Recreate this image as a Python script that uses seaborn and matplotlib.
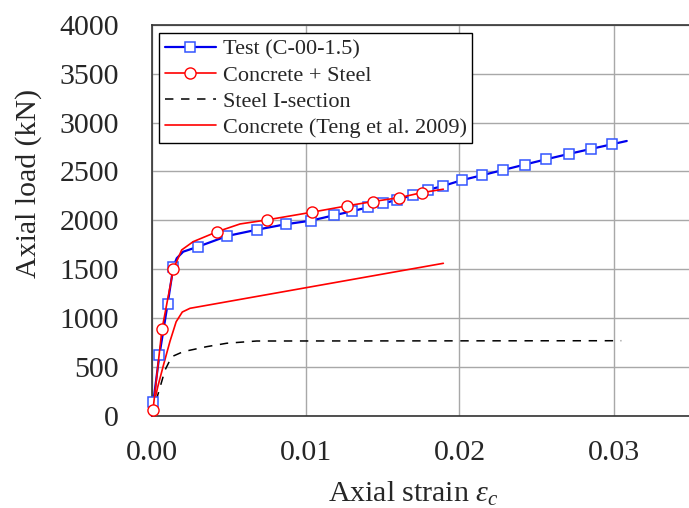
import numpy as np
import pandas as pd
import seaborn as sns
import matplotlib.pyplot as plt
from matplotlib.ticker import MultipleLocator

# =========================== DATA ===========================
# Test (C-00-1.5): line vertices, markers drawn at test_marks
test_strain = [0.0, 0.00012, 0.00051, 0.00105, 0.00142, 0.00164, 0.00206, 0.00304,
               0.00492, 0.00687, 0.00871, 0.01036, 0.01185, 0.01302, 0.01406, 0.01504,
               0.01596, 0.01696, 0.01795, 0.01895, 0.02014, 0.02146, 0.02284, 0.02423,
               0.02564, 0.02709, 0.02852, 0.02992, 0.03086]
test_load = [0, 141, 617, 1145, 1525, 1611, 1678, 1730,
             1839, 1904, 1959, 1996, 2051, 2092, 2133, 2174,
             2208, 2259, 2311, 2352, 2410, 2461, 2515, 2570,
             2625, 2679, 2730, 2779, 2812]
test_marks = [1, 2, 3, 4] + list(range(7, 28))

# Concrete + Steel
cs_strain = [0.0, 0.0001, 0.00068, 0.00142, 0.00196, 0.00271, 0.00427, 0.00575,
             0.00748, 0.0104, 0.01268, 0.01436, 0.0161, 0.01756, 0.01895]
cs_load = [0, 60, 883, 1498, 1696, 1781, 1883, 1962,
           2003, 2082, 2147, 2191, 2232, 2283, 2318]
cs_marks = [1, 2, 3, 6, 8, 9, 10, 11, 12, 13]

# Steel I-section
steel_strain = [0.0, 0.00044, 0.00088, 0.00131, 0.00206, 0.00358, 0.00488, 0.00683, 0.0305]
steel_load = [0, 227, 466, 602, 654, 705, 740, 763, 766]

# Concrete (Teng et al. 2009)
teng_strain = [0.0, 0.0004, 0.0008, 0.0012, 0.0016, 0.002, 0.0025, 0.01895]
teng_load = [0, 290, 530, 760, 960, 1060, 1098, 1559]

labels = ["Test (C-00-1.5)", "Concrete + Steel", "Steel I-section",
          "Concrete (Teng et al. 2009)"]

# =========================== STYLE ===========================
sns.set_style("white")
plt.rcParams['font.family'] = ['Liberation Serif', 'DejaVu Serif']
plt.rcParams['mathtext.fontset'] = 'custom'
plt.rcParams['mathtext.rm'] = 'Liberation Serif'
plt.rcParams['mathtext.it'] = 'Liberation Serif:italic'

fig = plt.figure(figsize=(6.89, 5.08), dpi=100)
W, H = 689, 508
ax = fig.add_axes([151.5 / W, 1 - 415.5 / H, (690.5 - 151.5) / W, (415.5 - 25) / H])

df_test = pd.DataFrame({"strain": test_strain, "load": test_load})
df_cs = pd.DataFrame({"strain": cs_strain, "load": cs_load})
df_steel = pd.DataFrame({"strain": steel_strain, "load": steel_load})
df_teng = pd.DataFrame({"strain": teng_strain, "load": teng_load})

sns.lineplot(data=df_test, x="strain", y="load", ax=ax, color="#0000ee", lw=1.6,
             marker="s", markevery=test_marks, ms=7, mfc="white", mec="#3355ff",
             mew=1.1, label=labels[0], zorder=4, clip_on=False)
sns.lineplot(data=df_cs, x="strain", y="load", ax=ax, color="#ff0000", lw=1.2,
             marker="o", markevery=cs_marks, ms=8, mfc="white", mec="#ff0000",
             mew=1.0, label=labels[1], zorder=5, clip_on=False)
sns.lineplot(data=df_steel, x="strain", y="load", ax=ax, color="black", lw=1.1,
             dashes=False, label=labels[2], zorder=3, clip_on=False)
ax.lines[-1].set_dashes((5.5, 5))
sns.lineplot(data=df_teng, x="strain", y="load", ax=ax, color="#ff0000", lw=1.2,
             label=labels[3], zorder=3, clip_on=False)

ax.set_xlim(0, 0.035)
ax.set_ylim(0, 4000)
ax.xaxis.set_major_locator(MultipleLocator(0.01))
ax.xaxis.set_minor_locator(MultipleLocator(0.005))
ax.yaxis.set_major_locator(MultipleLocator(500))
ax.yaxis.set_minor_locator(MultipleLocator(250))
ax.xaxis.set_major_formatter(plt.FuncFormatter(lambda v, p: f"{v:.2f}"))
ax.grid(True, which="major", color="#a8a8a8", lw=1.0)
ax.set_axisbelow(True)
ax.tick_params(which="major", direction="out", length=6.5, width=1.0, labelsize=21.5,
               color="#333333")
ax.tick_params(axis="y", which="major", pad=17)
ax.tick_params(axis="x", which="major", pad=11)
ax.tick_params(which="minor", direction="out", length=3.6, width=1.0, color="#333333")
for s in ["left", "bottom", "top"]:
    ax.spines[s].set_color("#333333")
    ax.spines[s].set_linewidth(1.2)
ax.spines["right"].set_visible(False)
ax.set_xlabel("")
ax.set_ylabel("")

fig.text(29 / W, 1 - 183.5 / H, "Axial load (kN)", rotation=90, ha="center",
         va="center", fontsize=21.5)
fig.text(413 / W, 1 - 501.6 / H, r"Axial strain $\varepsilon_c$", ha="center",
         va="baseline", fontsize=21.5)

leg = ax.legend(loc="upper left", bbox_to_anchor=((159.3 - 151.5) / 539, (415.5 - 33.3) / 390.5),
                fontsize=16, frameon=True, fancybox=False, framealpha=1,
                edgecolor="black", handlelength=2.3, handletextpad=0.3,
                labelspacing=0.25, borderpad=0.25, borderaxespad=0)
leg.get_frame().set_linewidth(1.0)
leg.set_zorder(10)

fig.savefig("out.png", dpi=100)
